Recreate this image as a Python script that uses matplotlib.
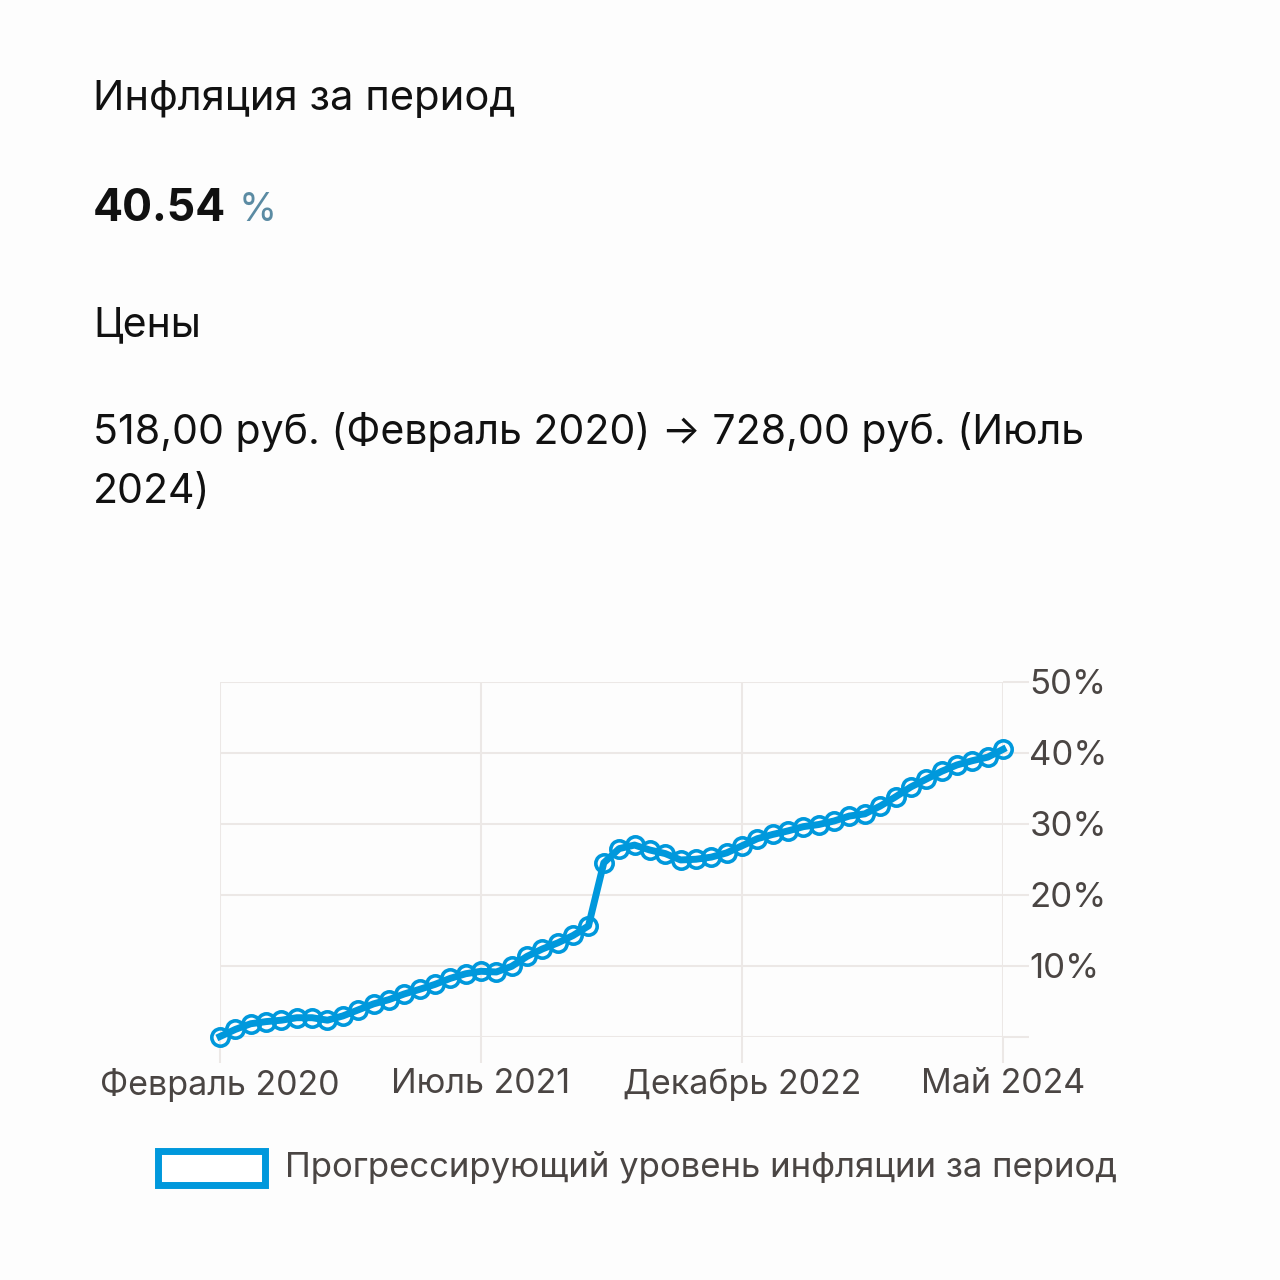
import matplotlib.pyplot as plt
from matplotlib.patches import Rectangle

plt.rcParams['font.family'] = ['Inter', 'DejaVu Sans']

# cumulative inflation, % (Feb 2020 .. May 2024, monthly)
inflation = [0.0, 1.0, 1.8, 2.1, 2.3, 2.65, 2.65, 2.3, 2.9, 3.75,
             4.6, 5.2, 6.0, 6.65, 7.35, 8.2, 8.85, 9.2, 9.1, 9.9,
             11.3, 12.35, 13.2, 14.25, 15.6, 24.5, 26.5, 27.0, 26.3, 25.8,
             24.9, 25.0, 25.3, 25.9, 26.9, 27.9, 28.5, 29.0, 29.6, 29.9,
             30.4, 31.1, 31.4, 32.5, 33.8, 35.2, 36.3, 37.4, 38.3, 38.9,
             39.4, 40.5]
months = list(range(len(inflation)))
xtick_pos = [0, 17, 34, 51]
xtick_labels = ["Февраль 2020", "Июль 2021", "Декабрь 2022", "Май 2024"]
ytick_pos = [0, 10, 20, 30, 40, 50]
ytick_labels = ["", "10%", "20%", "30%", "40%", "50%"]

title = "Инфляция за период"
total = "40.54"
prices_hdr = "Цены"
prices_line1 = "518,00 руб. (Февраль 2020) → 728,00 руб. (Июль"
prices_line2 = "2024)"
legend_label = "Прогрессирующий уровень инфляции за период"

blue = "#0098dc"
grid_c = "#ece8e6"
tick_c = "#4a4543"
bg = "#fdfdfd"

W = 1280
fig = plt.figure(figsize=(12.8, 12.8), dpi=100, facecolor=bg)

def fy(py):
    return 1 - py / W

fig.text(93 / W, fy(110), title, fontsize=30, color="#111111")
fig.text(93 / W, fy(221), total, fontsize=32, fontweight="bold", color="#111111")
fig.text(239 / W, fy(221), "%", fontsize=28, color="#5b8ba3")
fig.text(93 / W, fy(336), prices_hdr, fontsize=29.5, color="#111111")
fig.text(93 / W, fy(444), prices_line1, fontsize=29.5, color="#111111")
fig.text(93 / W, fy(503), prices_line2, fontsize=29.5, color="#111111")

ax = fig.add_axes([220 / W, fy(1036.5), (1003 - 220) / W, (1036.5 - 682) / W])
ax.set_facecolor(bg)
ax.plot(months, inflation, color=blue, lw=5, marker="o", ms=12.5,
        mfc="none", mec=blue, mew=2.6, clip_on=False, zorder=3)
ax.set_xlim(0, 51)
ax.set_ylim(0, 50)
ax.set_xticks(xtick_pos)
ax.set_xticklabels(xtick_labels)
ax.set_yticks(ytick_pos)
ax.set_yticklabels(ytick_labels)
ax.grid(True, color=grid_c, lw=1.5)
for s in ax.spines.values():
    s.set_visible(False)
ax.tick_params(axis="y", left=False, labelleft=False, right=True, labelright=True,
               length=19, width=1.5, color=grid_c, pad=0, labelsize=25, labelcolor=tick_c)
ax.tick_params(axis="x", length=19, width=1.5, color=grid_c, pad=4,
               labelsize=24.5, labelcolor=tick_c)

# legend
fig.add_artist(Rectangle((158 / W, fy(1185)), 107 / W, 34 / W, transform=fig.transFigure,
                         facecolor="white", edgecolor=blue, lw=5))
fig.text(285 / W, fy(1168), legend_label, fontsize=25, color=tick_c, va="center")

fig.savefig("out.png", dpi=100, facecolor=bg)
